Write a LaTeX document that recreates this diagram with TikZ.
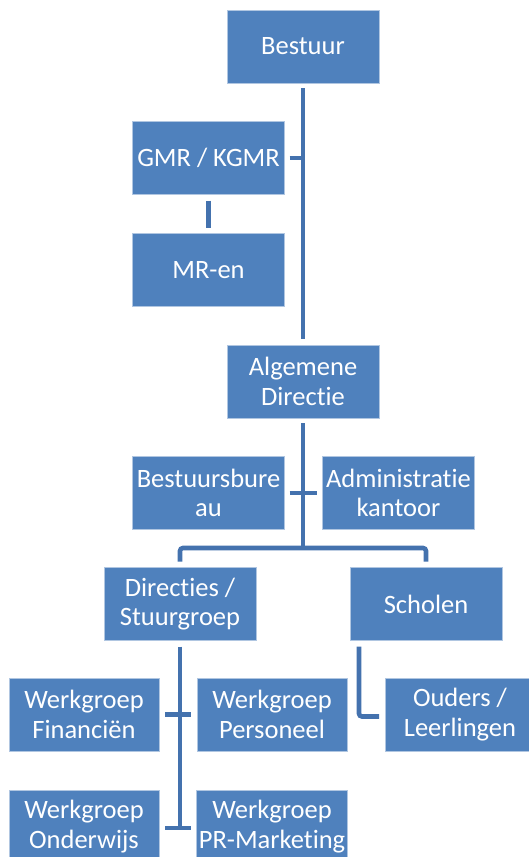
\documentclass[tikz,border=0pt]{standalone}
\usepackage{fontspec}
\setmainfont{Carlito}[Ligatures=NoCommon]
\usetikzlibrary{positioning}
\definecolor{boxblue}{RGB}{79,129,189}
\definecolor{lineblue}{RGB}{68,114,174}
\begin{document}
\begin{tikzpicture}[x=1pt, y=-1pt]
        % Define styles for nodes and lines
        \tikzstyle{box} = [rectangle, minimum width=152pt, minimum height=73pt, inner sep=2pt, outer sep=0pt, align=center, text=white, draw=white!55!boxblue, line width=0.8pt, fill=boxblue, font=\fontsize{26.5}{29.5}\selectfont]
        \tikzstyle{link} = [draw=lineblue, line width=4.6pt]

        \useasboundingbox (0,0) rectangle (529,857);

        \node (bestuur) [box] at (303,46.5) {Bestuur};
        \node (algemene) [box, below=262pt of bestuur] {Algemene\\Directie};
        \node (gmr) [box] at (208.5,158) {GMR / KGMR};
        \node (mren) [box, below=39pt of gmr] {MR-en};
        \node (bureau) [box] at (208.5,493) {Bestuursbure\\au};
        \node (admin) [box, right=38pt of bureau] {Administratie\\kantoor};
        \node (directies) [box] at (180,604) {Directies /\\Stuurgroep};
        \node (scholen) [box, right=94pt of directies] {Scholen};
        \node (financien) [box, minimum width=150pt] at (84,714.5) {Werkgroep\\Financiën};
        \node (personeel) [box, minimum width=150pt, right=38pt of financien] {Werkgroep\\Personeel};
        \node (ouders) [box, minimum width=150pt, right=38pt of personeel] {Ouders /\\Leerlingen};
        \node (onderwijs) [box, minimum width=150pt, below=39pt of financien] {Werkgroep\\Onderwijs};
        \node (marketing) [box, minimum width=150pt, below=39pt of personeel] {Werkgroep\\PR-Marketing};

        % Lines
        \draw [link, shorten <=5pt, shorten >=6pt] (bestuur) -- (algemene);
        \draw [link, shorten <=5pt] (gmr.east) -- (gmr.east -| bestuur);
        \draw [link, shorten <=6pt, shorten >=6pt] (gmr) -- (mren);
        \coordinate (fork) at (algemene.south |- 0,548);
        \draw [link, shorten <=5pt] (algemene.south) -- (fork);
        \draw [link, shorten <=5pt, shorten >=6pt] (bureau.east) -- (admin.west);
        \draw [link, rounded corners=3pt] ([yshift=6pt]directies.north) -- (directies.north |- fork) -| ([yshift=6pt]scholen.north);
        \draw [link, shorten <=6pt] (directies.south) -- ([yshift=-1.5pt]directies.south |- onderwijs.east);
        \draw [link, shorten <=6pt, shorten >=6pt] (financien.east) -- (personeel.west);
        \draw [link, shorten <=6pt, shorten >=6pt] ([yshift=-1.5pt]onderwijs.east) -- ([yshift=-1.5pt]marketing.west);
        \draw [link, rounded corners=3pt] ([xshift=9pt,yshift=-6pt]scholen.south west) |- ([xshift=-6pt,yshift=-2pt]ouders.west);
\end{tikzpicture}
\end{document}
